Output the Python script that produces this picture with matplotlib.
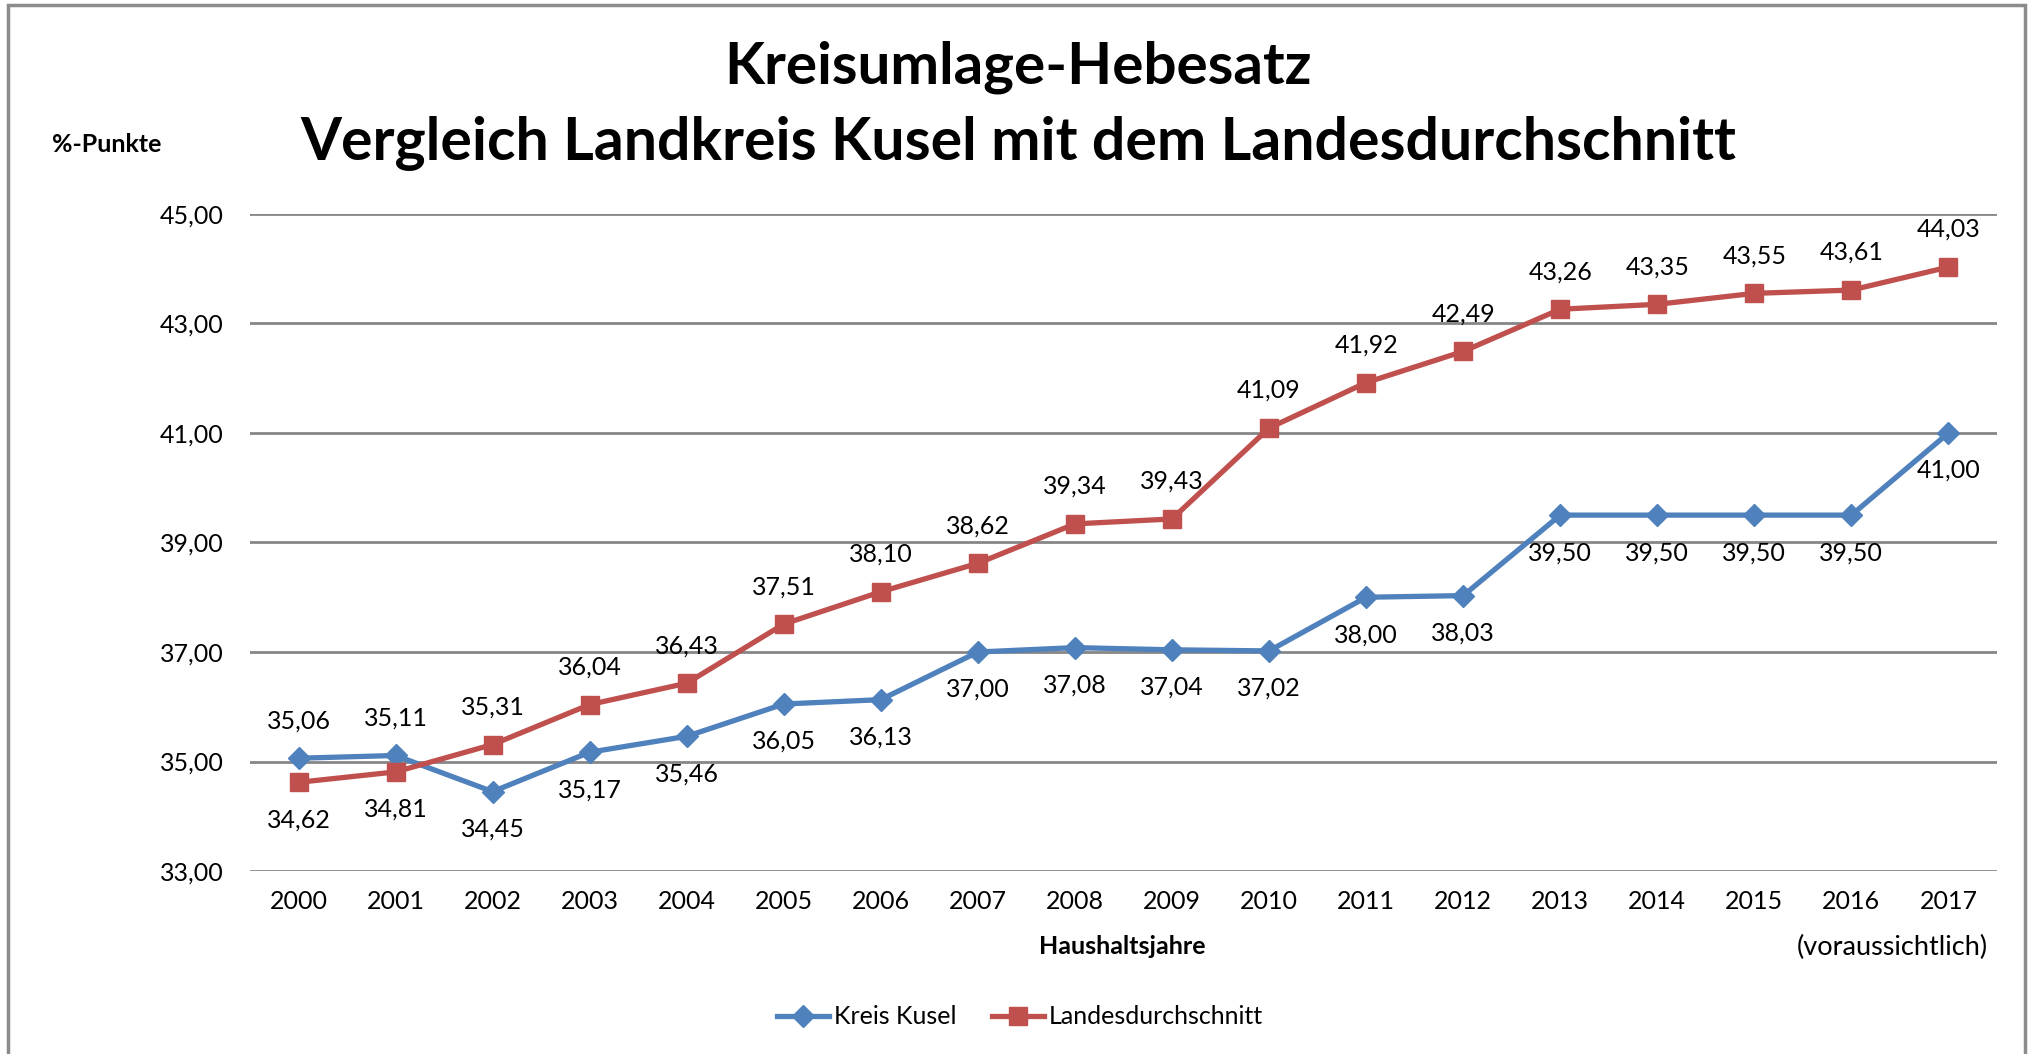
import matplotlib
matplotlib.use("Agg")
import matplotlib.pyplot as plt
from matplotlib.patches import Rectangle
from matplotlib.ticker import FuncFormatter

plt.rcParams['font.family'] = ['Lato', 'DejaVu Sans']

jahre = ['2000', '2001', '2002', '2003', '2004', '2005', '2006', '2007', '2008',
         '2009', '2010', '2011', '2012', '2013', '2014', '2015', '2016', '2017']
kusel = [35.06, 35.11, 34.45, 35.17, 35.46, 36.05, 36.13, 37.00, 37.08,
         37.04, 37.02, 38.00, 38.03, 39.50, 39.50, 39.50, 39.50, 41.00]
landes = [34.62, 34.81, 35.31, 36.04, 36.43, 37.51, 38.10, 38.62, 39.34,
          39.43, 41.09, 41.92, 42.49, 43.26, 43.35, 43.55, 43.61, 44.03]
# wo die Werte stehen: 1 = oberhalb, -1 = unterhalb
kusel_pos = [1, 1] + [-1] * 16
landes_pos = [-1, -1] + [1] * 16

blau = '#4F81BD'
rot = '#C0504D'
grau = '#868686'


def komma(v, pos=None):
    return f'{v:.2f}'.replace('.', ',')


fig = plt.figure(figsize=(20.34, 10.54), dpi=100)
fig.set_facecolor('white')
ax = fig.add_axes([0.1229, 0.1736, 0.8589, 0.6234])

x = list(range(len(jahre)))
ax.plot(x, kusel, color=blau, lw=3.8, marker='D', ms=11, label='Kreis Kusel')
ax.plot(x, landes, color=rot, lw=3.8, marker='s', ms=12.5, label='Landesdurchschnitt')

for i in x:
    ax.annotate(komma(kusel[i]), (i, kusel[i]), xytext=(0, 27 * kusel_pos[i]),
                textcoords='offset points', ha='center', va='center', fontsize=18)
    ax.annotate(komma(landes[i]), (i, landes[i]), xytext=(0, 27 * landes_pos[i]),
                textcoords='offset points', ha='center', va='center', fontsize=18)

ax.set_xlim(-0.5, len(jahre) - 0.5)
ax.set_ylim(33, 45)
ax.set_yticks([33, 35, 37, 39, 41, 43, 45])
ax.yaxis.set_major_formatter(FuncFormatter(komma))
ax.set_xticks(x)
ax.set_xticklabels(jahre)
ax.tick_params(axis='both', length=0, labelsize=18)
ax.tick_params(axis='y', pad=19)
ax.tick_params(axis='x', pad=14)
ax.grid(axis='y', color=grau, lw=2)
ax.set_axisbelow(True)
for s in ax.spines.values():
    s.set_visible(False)

fig.text(1988 / 2034, 1 - 947 / 1054, '(voraussichtlich)', ha='right', va='center', fontsize=19.5)
fig.text(1122 / 2034, 1 - 947 / 1054, 'Haushaltsjahre', ha='center', va='center',
         fontsize=18, fontweight='bold')
fig.text(107 / 2034, 1 - 144 / 1054, '%-Punkte', ha='center', va='center',
         fontsize=18, fontweight='bold')

fig.text(1018 / 2034, 1 - 67 / 1054, 'Kreisumlage-Hebesatz', ha='center', va='center',
         fontsize=42, fontweight='bold')
fig.text(1018 / 2034, 1 - 143 / 1054, 'Vergleich Landkreis Kusel mit dem Landesdurchschnitt',
         ha='center', va='center', fontsize=42.5, fontweight='bold')

fig.legend(loc='center', bbox_to_anchor=(1020 / 2034, 1 - 1017 / 1054), ncol=2,
           frameon=False, fontsize=18, handlelength=2.1, handletextpad=0.2,
           columnspacing=1.4)

rahmen = Rectangle((8 / 2034, -0.05), 2017 / 2034, 1.05 - 5 / 1054, transform=fig.transFigure,
                   fill=False, edgecolor='#8C8C8C', lw=2.5)
fig.patches.append(rahmen)

fig.savefig('out.png', dpi=100)
